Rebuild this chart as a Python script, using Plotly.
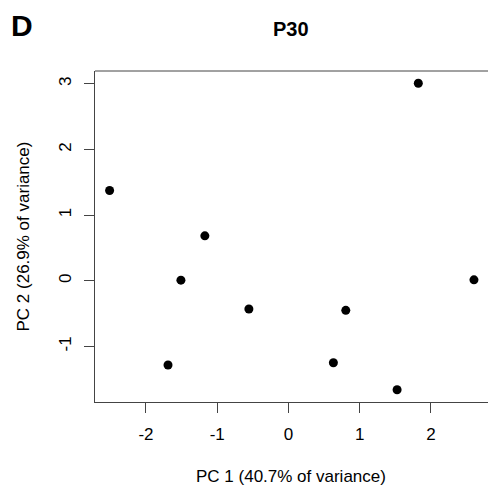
import plotly.graph_objects as go

pc1 = [-2.51, -1.173, -1.509, -1.69, -0.555, 0.631, 0.805, 1.525, 1.823, 2.604]
pc2 = [1.375, 0.685, 0.01, -1.282, -0.43, -1.247, -0.45, -1.658, 3.007, 0.015]
x_ticks = [-2, -1, 0, 1, 2]
y_ticks = [-1, 0, 1, 2, 3]

FONT = "Liberation Sans, Arial, Helvetica, sans-serif"
AX = "#444444"

fig = go.Figure(go.Scatter(
    x=pc1, y=pc2, mode="markers",
    marker=dict(color="black", size=9, line=dict(width=0)),
    showlegend=False, hoverinfo="skip"))

fig.update_layout(
    width=488, height=490,
    margin=dict(l=95, r=0, t=71, b=88),
    paper_bgcolor="white", plot_bgcolor="white",
    font=dict(family=FONT, size=17, color="black"),
    xaxis=dict(range=[-2.715, 2.801], tickvals=x_ticks, ticktext=[str(v) for v in x_ticks],
               showgrid=False, zeroline=False, showline=True, linecolor=AX, linewidth=1,
               ticks="outside", ticklen=10, tickcolor=AX, tickwidth=1,
               tickfont=dict(size=17), ticklabelstandoff=7),
    yaxis=dict(range=[-1.845, 3.194], tickvals=y_ticks, ticktext=[str(v) for v in y_ticks],
               showgrid=False, zeroline=False, showline=True, linecolor=AX, linewidth=1,
               ticks="outside", ticklen=10, tickcolor=AX, tickwidth=1,
               tickangle=-90, tickfont=dict(size=17), ticklabelstandoff=6),
    shapes=[dict(type="line", xref="paper", yref="paper", x0=0, x1=1, y0=1, y1=1,
                 line=dict(color=AX, width=1))],
    annotations=[
        dict(text="PC 1 (40.7% of variance)", xref="paper", yref="paper",
             x=0.4987, y=-0.2236, xanchor="center", yanchor="middle",
             showarrow=False, font=dict(size=17)),
        dict(text="PC 2 (26.9% of variance)", xref="paper", yref="paper",
             x=-0.1807, y=0.5, xanchor="center", yanchor="middle", textangle=-90,
             showarrow=False, font=dict(size=17)),
        dict(text="<b>P30</b>", xref="paper", yref="paper",
             x=0.4987, y=1.127, xanchor="center", yanchor="middle",
             showarrow=False, font=dict(size=20)),
        dict(text="<b>D</b>", xref="paper", yref="paper",
             x=-0.1858, y=1.136, xanchor="center", yanchor="middle",
             showarrow=False, font=dict(size=30)),
    ],
)

fig.write_html("out.html", config={"displayModeBar": False},
               post_script="document.body.style.margin='0px';document.body.style.overflow='hidden';")
